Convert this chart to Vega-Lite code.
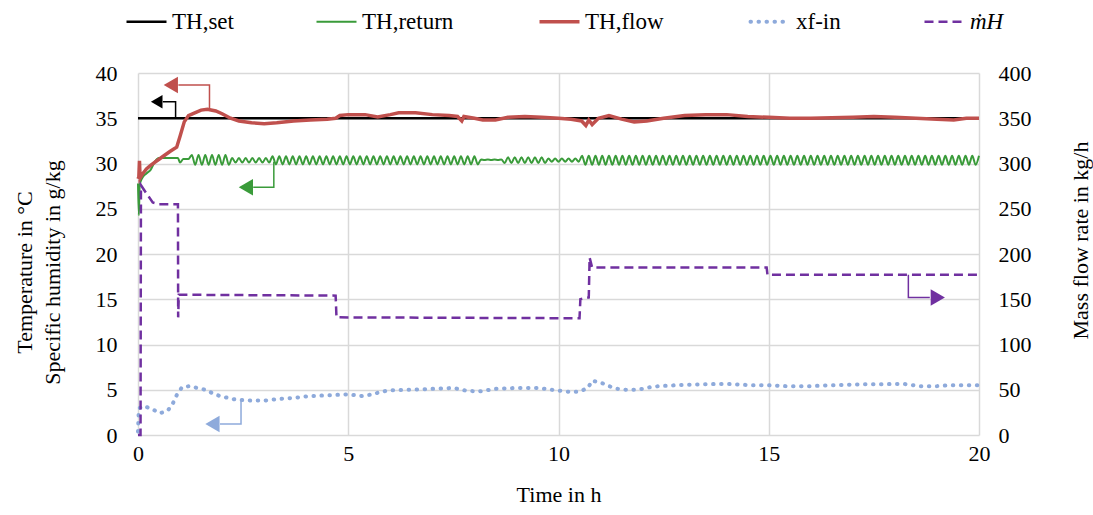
{
"$schema":"https://vega.github.io/schema/vega-lite/v6.json",
"width":841,"height":362,
"autosize":{"type":"none"},
"padding":{"left":138,"top":73,"right":114,"bottom":80},
"background":"white",
"config":{
 "font":"Liberation Serif",
 "view":{"stroke":null},
 "axis":{"labelFont":"Liberation Serif","titleFont":"Liberation Serif","labelFontSize":22,"titleFontSize":22,"titleFontWeight":"normal","labelColor":"#000","titleColor":"#000","gridColor":"#d9d9d9","gridWidth":1.5,"domain":false,"ticks":false,"labelFlush":false},
 "legend":{"orient":"none","legendX":-3,"legendY":-63,"direction":"horizontal","symbolType":"stroke","symbolSize":1600,"labelFont":"Liberation Serif","labelFontSize":23,"labelColor":"#000","columnPadding":78,"labelOffset":14,"labelLimit":0,"padding":0}
},
"datasets":{
 "set":[{"t":0,"v":35},{"t":20,"v":35}],
 "flow":[{"t":0,"v":28.3},{"t":0.02,"v":28.5},{"t":0.035,"v":30.3},{"t":0.05,"v":28.4},{"t":0.1,"v":28.8},{"t":0.2,"v":29.4},{"t":0.3,"v":29.8},{"t":0.45,"v":30.3},{"t":0.6,"v":30.8},{"t":0.75,"v":31.3},{"t":0.85,"v":31.6},{"t":0.92,"v":31.8},{"t":1.0,"v":33.0},{"t":1.1,"v":34.6},{"t":1.2,"v":35.3},{"t":1.35,"v":35.6},{"t":1.5,"v":35.9},{"t":1.65,"v":36.0},{"t":1.85,"v":35.8},{"t":2.0,"v":35.5},{"t":2.2,"v":35.0},{"t":2.4,"v":34.7},{"t":2.7,"v":34.5},{"t":3.0,"v":34.4},{"t":3.3,"v":34.5},{"t":3.7,"v":34.7},{"t":4.1,"v":34.8},{"t":4.5,"v":34.9},{"t":4.7,"v":35.0},{"t":4.8,"v":35.3},{"t":5.0,"v":35.4},{"t":5.4,"v":35.4},{"t":5.7,"v":35.15},{"t":6.0,"v":35.4},{"t":6.2,"v":35.6},{"t":6.6,"v":35.6},{"t":7.0,"v":35.4},{"t":7.4,"v":35.3},{"t":7.6,"v":35.2},{"t":7.7,"v":34.7},{"t":7.75,"v":35.2},{"t":8.0,"v":35.0},{"t":8.2,"v":34.8},{"t":8.5,"v":34.8},{"t":8.8,"v":35.1},{"t":9.2,"v":35.2},{"t":9.6,"v":35.1},{"t":10.0,"v":35.0},{"t":10.3,"v":34.9},{"t":10.55,"v":34.7},{"t":10.65,"v":34.2},{"t":10.72,"v":34.8},{"t":10.8,"v":34.3},{"t":10.95,"v":35.0},{"t":11.2,"v":35.3},{"t":11.5,"v":34.9},{"t":11.8,"v":34.6},{"t":12.1,"v":34.7},{"t":12.5,"v":35.0},{"t":13.0,"v":35.3},{"t":13.5,"v":35.4},{"t":14.0,"v":35.4},{"t":14.5,"v":35.2},{"t":15.0,"v":35.1},{"t":15.5,"v":35.0},{"t":16.0,"v":35.0},{"t":17.0,"v":35.1},{"t":17.5,"v":35.2},{"t":18.0,"v":35.1},{"t":18.5,"v":35.0},{"t":19.0,"v":34.9},{"t":19.4,"v":34.8},{"t":19.7,"v":35.0},{"t":20,"v":35.0}],
 "ret":[{"t":0,"v":27.8},{"t":0.02,"v":24.3},{"t":0.04,"v":27.6},{"t":0.1,"v":28.4},{"t":0.2,"v":28.9},{"t":0.3,"v":29.3},{"t":0.4,"v":30.2},{"t":0.5,"v":30.6},{"t":0.7,"v":30.6},{"t":0.95,"v":30.6},{"t":1.0,"v":30.1},{"t":1.08,"v":30.5},{"t":1.2,"v":30.5},
 {"t":1.28,"v":30.95},{"t":1.36,"v":29.85},{"t":1.44,"v":30.95},{"t":1.52,"v":29.85},{"t":1.6,"v":30.95},{"t":1.68,"v":29.85},{"t":1.76,"v":30.95},{"t":1.84,"v":29.85},{"t":1.92,"v":30.95},{"t":2.0,"v":29.85},{"t":2.08,"v":30.95},{"t":2.16,"v":29.85},
 {"t":2.24,"v":30.6},{"t":2.32,"v":30.1},{"t":2.4,"v":30.6},{"t":2.48,"v":30.1},{"t":2.56,"v":30.6},{"t":2.64,"v":30.1},{"t":2.72,"v":30.6},{"t":2.8,"v":30.1},{"t":2.88,"v":30.6},{"t":2.96,"v":30.1},{"t":3.04,"v":30.6},{"t":3.12,"v":30.1},
 {"t":3.2,"v":30.8},{"t":3.28,"v":29.9},{"t":3.36,"v":30.8},{"t":3.44,"v":29.9},{"t":3.52,"v":30.8},{"t":3.6,"v":29.9},{"t":3.68,"v":30.8},{"t":3.76,"v":29.9},{"t":3.84,"v":30.8},{"t":3.92,"v":29.9},{"t":4.0,"v":30.8},{"t":4.08,"v":29.9},{"t":4.16,"v":30.8},{"t":4.24,"v":29.9},{"t":4.32,"v":30.8},{"t":4.4,"v":29.9},{"t":4.48,"v":30.8},{"t":4.56,"v":29.9},{"t":4.64,"v":30.8},{"t":4.72,"v":29.9},{"t":4.8,"v":30.8},{"t":4.88,"v":29.9},{"t":4.96,"v":30.8},{"t":5.04,"v":29.9},{"t":5.12,"v":30.8},{"t":5.2,"v":29.9},{"t":5.28,"v":30.8},{"t":5.36,"v":29.9},{"t":5.44,"v":30.8},{"t":5.52,"v":29.9},{"t":5.6,"v":30.8},{"t":5.68,"v":29.9},{"t":5.76,"v":30.8},{"t":5.84,"v":29.9},{"t":5.92,"v":30.8},{"t":6.0,"v":29.9},{"t":6.08,"v":30.8},{"t":6.16,"v":29.9},{"t":6.24,"v":30.8},{"t":6.32,"v":29.9},{"t":6.4,"v":30.8},{"t":6.48,"v":29.9},{"t":6.56,"v":30.8},{"t":6.64,"v":29.9},{"t":6.72,"v":30.8},{"t":6.8,"v":29.9},{"t":6.88,"v":30.8},{"t":6.96,"v":29.9},{"t":7.04,"v":30.8},{"t":7.12,"v":29.9},{"t":7.2,"v":30.8},{"t":7.28,"v":29.9},{"t":7.36,"v":30.8},{"t":7.44,"v":29.9},{"t":7.52,"v":30.8},{"t":7.6,"v":29.9},{"t":7.68,"v":30.8},{"t":7.76,"v":29.9},{"t":7.84,"v":30.8},{"t":7.92,"v":29.9},{"t":8.0,"v":30.8},{"t":8.08,"v":29.9},
 {"t":8.16,"v":30.45},{"t":8.24,"v":30.4},{"t":8.32,"v":30.45},{"t":8.4,"v":30.4},{"t":8.48,"v":30.45},{"t":8.56,"v":30.4},{"t":8.64,"v":30.45},
 {"t":8.72,"v":30.05},{"t":8.8,"v":30.7},{"t":8.88,"v":30.05},{"t":8.96,"v":30.7},{"t":9.04,"v":30.05},{"t":9.12,"v":30.7},{"t":9.2,"v":30.05},{"t":9.28,"v":30.7},{"t":9.36,"v":30.05},{"t":9.44,"v":30.7},{"t":9.52,"v":30.05},{"t":9.6,"v":30.7},{"t":9.68,"v":30.05},
 {"t":9.76,"v":30.55},{"t":9.84,"v":30.2},{"t":9.92,"v":30.55},{"t":10.0,"v":30.2},{"t":10.08,"v":30.55},{"t":10.16,"v":30.2},{"t":10.24,"v":30.55},{"t":10.32,"v":30.2},{"t":10.4,"v":30.55},{"t":10.48,"v":30.2},
 {"t":10.56,"v":30.85},{"t":10.64,"v":29.85},{"t":10.72,"v":30.85},{"t":10.8,"v":29.85},{"t":10.88,"v":30.85},{"t":10.96,"v":29.85},{"t":11.04,"v":30.85},{"t":11.12,"v":29.85},{"t":11.2,"v":30.85},{"t":11.28,"v":29.85},{"t":11.36,"v":30.85},{"t":11.44,"v":29.85},{"t":11.52,"v":30.85},{"t":11.6,"v":29.85},{"t":11.68,"v":30.85},{"t":11.76,"v":29.85},{"t":11.84,"v":30.85},{"t":11.92,"v":29.85},{"t":12.0,"v":30.85},{"t":12.08,"v":29.85},{"t":12.16,"v":30.85},{"t":12.24,"v":29.85},{"t":12.32,"v":30.85},{"t":12.4,"v":29.85},{"t":12.48,"v":30.85},{"t":12.56,"v":29.85},{"t":12.64,"v":30.85},{"t":12.72,"v":29.85},{"t":12.8,"v":30.85},{"t":12.88,"v":29.85},{"t":12.96,"v":30.85},{"t":13.04,"v":29.85},{"t":13.12,"v":30.85},{"t":13.2,"v":29.85},{"t":13.28,"v":30.85},{"t":13.36,"v":29.85},{"t":13.44,"v":30.85},{"t":13.52,"v":29.85},{"t":13.6,"v":30.85},{"t":13.68,"v":29.85},{"t":13.76,"v":30.85},{"t":13.84,"v":29.85},{"t":13.92,"v":30.85},{"t":14.0,"v":29.85},{"t":14.08,"v":30.85},{"t":14.16,"v":29.85},{"t":14.24,"v":30.85},{"t":14.32,"v":29.85},{"t":14.4,"v":30.85},{"t":14.48,"v":29.85},{"t":14.56,"v":30.85},{"t":14.64,"v":29.85},{"t":14.72,"v":30.85},{"t":14.8,"v":29.85},{"t":14.88,"v":30.85},{"t":14.96,"v":29.85},{"t":15.04,"v":30.85},{"t":15.12,"v":29.85},{"t":15.2,"v":30.85},{"t":15.28,"v":29.85},{"t":15.36,"v":30.85},{"t":15.44,"v":29.85},{"t":15.52,"v":30.85},{"t":15.6,"v":29.85},{"t":15.68,"v":30.85},{"t":15.76,"v":29.85},{"t":15.84,"v":30.85},{"t":15.92,"v":29.85},{"t":16.0,"v":30.85},{"t":16.08,"v":29.85},{"t":16.16,"v":30.85},{"t":16.24,"v":29.85},{"t":16.32,"v":30.85},{"t":16.4,"v":29.85},{"t":16.48,"v":30.85},{"t":16.56,"v":29.85},{"t":16.64,"v":30.85},{"t":16.72,"v":29.85},{"t":16.8,"v":30.85},{"t":16.88,"v":29.85},{"t":16.96,"v":30.85},{"t":17.04,"v":29.85},{"t":17.12,"v":30.85},{"t":17.2,"v":29.85},{"t":17.28,"v":30.85},{"t":17.36,"v":29.85},{"t":17.44,"v":30.85},{"t":17.52,"v":29.85},{"t":17.6,"v":30.85},{"t":17.68,"v":29.85},{"t":17.76,"v":30.85},{"t":17.84,"v":29.85},{"t":17.92,"v":30.85},{"t":18.0,"v":29.85},{"t":18.08,"v":30.85},{"t":18.16,"v":29.85},{"t":18.24,"v":30.85},{"t":18.32,"v":29.85},{"t":18.4,"v":30.85},{"t":18.48,"v":29.85},{"t":18.56,"v":30.85},{"t":18.64,"v":29.85},{"t":18.72,"v":30.85},{"t":18.8,"v":29.85},{"t":18.88,"v":30.85},{"t":18.96,"v":29.85},{"t":19.04,"v":30.85},{"t":19.12,"v":29.85},{"t":19.2,"v":30.85},{"t":19.28,"v":29.85},{"t":19.36,"v":30.85},{"t":19.44,"v":29.85},{"t":19.52,"v":30.85},{"t":19.6,"v":29.85},{"t":19.68,"v":30.85},{"t":19.76,"v":29.85},{"t":19.84,"v":30.85},{"t":19.92,"v":29.85},{"t":20.0,"v":30.85}],
 "xf":[{"t":0,"v":0.4},{"t":0.01,"v":1.8},{"t":0.02,"v":2.9},{"t":0.1,"v":3.2},{"t":0.2,"v":3.1},{"t":0.36,"v":2.8},{"t":0.52,"v":2.4},{"t":0.71,"v":2.7},{"t":0.83,"v":3.5},{"t":0.93,"v":4.5},{"t":1.05,"v":5.3},{"t":1.24,"v":5.4},{"t":1.4,"v":5.2},{"t":1.6,"v":5.0},{"t":1.78,"v":4.6},{"t":1.95,"v":4.3},{"t":2.14,"v":4.1},{"t":2.33,"v":3.9},{"t":2.7,"v":3.8},{"t":3.0,"v":3.8},{"t":3.4,"v":4.0},{"t":3.7,"v":4.1},{"t":4.1,"v":4.3},{"t":4.6,"v":4.4},{"t":5.0,"v":4.5},{"t":5.3,"v":4.3},{"t":5.6,"v":4.5},{"t":5.75,"v":4.75},{"t":6.0,"v":4.95},{"t":6.5,"v":5.0},{"t":7.0,"v":5.1},{"t":7.5,"v":5.2},{"t":7.8,"v":4.9},{"t":8.1,"v":4.8},{"t":8.5,"v":5.1},{"t":9.0,"v":5.2},{"t":9.5,"v":5.2},{"t":10.0,"v":4.9},{"t":10.3,"v":4.75},{"t":10.5,"v":4.8},{"t":10.7,"v":5.2},{"t":10.8,"v":6.0},{"t":11.0,"v":5.8},{"t":11.2,"v":5.4},{"t":11.4,"v":5.1},{"t":11.6,"v":5.0},{"t":11.8,"v":5.0},{"t":12.0,"v":5.1},{"t":12.2,"v":5.3},{"t":12.4,"v":5.4},{"t":12.8,"v":5.5},{"t":13.4,"v":5.6},{"t":14.0,"v":5.65},{"t":14.6,"v":5.5},{"t":15.0,"v":5.5},{"t":15.4,"v":5.4},{"t":16.0,"v":5.4},{"t":16.5,"v":5.5},{"t":17.2,"v":5.6},{"t":17.6,"v":5.6},{"t":18.2,"v":5.65},{"t":18.6,"v":5.4},{"t":19.0,"v":5.4},{"t":19.3,"v":5.5},{"t":20,"v":5.5}],
 "mh":[{"t":0,"v":0},{"t":0.06,"v":0},{"t":0.07,"v":276},{"t":0.2,"v":267},{"t":0.35,"v":257},{"t":0.5,"v":255},{"t":0.95,"v":255},{"t":0.955,"v":130},{"t":0.97,"v":155},{"t":4.7,"v":154},{"t":4.72,"v":130},{"t":10.5,"v":129},{"t":10.52,"v":150},{"t":10.72,"v":152},{"t":10.74,"v":196},{"t":10.8,"v":185},{"t":14.95,"v":185},{"t":14.97,"v":177},{"t":20,"v":177}]
},
"encoding":{"x":{"field":"t","type":"quantitative","scale":{"domain":[0,20],"nice":false},"axis":{"values":[0,5,10,15,20],"title":"Time in h","labelFont":"Liberation Serif","titleFont":"Liberation Serif","labelPadding":8,"titlePadding":20,"grid":true}}},
"layer":[
 {"encoding":{"y":{"field":"v","type":"quantitative","scale":{"domain":[0,40],"nice":false},"axis":{"values":[0,5,10,15,20,25,30,35,40],"title":["Temperature in °C","Specific humidity in g/kg"],"labelFont":"Liberation Serif","titleFont":"Liberation Serif","labelPadding":21,"titleAngle":270,"titleX":-114,"titleY":199,"titleBaseline":"middle","titleAlign":"center","titleLineHeight":28,"grid":true}}},
  "layer":[
   {"data":{"name":"set"},"mark":{"type":"line","strokeWidth":2.5},"encoding":{
     "color":{"datum":"TH,set","type":"nominal","title":null,"scale":{"domain":["TH,set","TH,return","TH,flow","xf-in","ṁH"],"range":["#000000","#3a9b3a","#c0504d","#8eaadb","#7030a0"]},"legend":{"encode":{
       "labels":{"update":{"fontStyle":{"signal":"datum.value === 'ṁH' ? 'italic' : 'normal'"}}},
       "symbols":{"update":{"strokeCap":{"signal":"datum.value === 'xf-in' ? 'round' : 'butt'"},"strokeDash":{"signal":"datum.value === 'xf-in' ? [0.5,7.5] : (datum.value === 'ṁH' ? [9,5] : [1,0])"},"strokeWidth":{"signal":"datum.value === 'TH,flow' ? 3.5 : (datum.value === 'xf-in' ? 4 : (datum.value === 'TH,return' ? 2 : 2.5))"}}}}}}}},
   {"data":{"name":"ret"},"mark":{"type":"line","strokeWidth":2,"interpolate":"monotone"},"encoding":{"color":{"datum":"TH,return","type":"nominal","title":null}}},
   {"data":{"name":"flow"},"mark":{"type":"line","strokeWidth":3.5},"encoding":{"color":{"datum":"TH,flow","type":"nominal","title":null}}},
   {"data":{"name":"xf"},"mark":{"type":"line","strokeWidth":4,"strokeCap":"round","strokeDash":[0.5,7.5]},"encoding":{"color":{"datum":"xf-in","type":"nominal","title":null}}},
   {"data":{"values":[{"t":0.894,"v":35.0},{"t":0.894,"v":36.83},{"t":0.59,"v":36.83}]},"mark":{"type":"line","color":"#000000","strokeWidth":1.5},"encoding":{"order":{"value":null}}},
   {"data":{"values":[{"t":0.445,"v":36.83}]},"mark":{"type":"point","shape":"triangle-left","filled":true,"color":"#000000","opacity":1,"size":180}},
   {"data":{"values":[{"t":1.70,"v":35.9},{"t":1.70,"v":38.67},{"t":0.96,"v":38.67}]},"mark":{"type":"line","color":"#c0504d","strokeWidth":1.5},"encoding":{"order":{"value":null}}},
   {"data":{"values":[{"t":0.78,"v":38.67}]},"mark":{"type":"point","shape":"triangle-left","filled":true,"color":"#c0504d","opacity":1,"size":270}},
   {"data":{"values":[{"t":3.23,"v":30.2},{"t":3.23,"v":27.37},{"t":2.74,"v":27.37}]},"mark":{"type":"line","color":"#3a9b3a","strokeWidth":1.5},"encoding":{"order":{"value":null}}},
   {"data":{"values":[{"t":2.565,"v":27.37}]},"mark":{"type":"point","shape":"triangle-left","filled":true,"color":"#3a9b3a","opacity":1,"size":270}},
   {"data":{"values":[{"t":2.45,"v":3.87},{"t":2.45,"v":1.22},{"t":1.95,"v":1.22}]},"mark":{"type":"line","color":"#8eaadb","strokeWidth":1.5},"encoding":{"order":{"value":null}}},
   {"data":{"values":[{"t":1.77,"v":1.22}]},"mark":{"type":"point","shape":"triangle-left","filled":true,"color":"#8eaadb","opacity":1,"size":270}}
  ]},
 {"encoding":{"y":{"field":"v","type":"quantitative","scale":{"domain":[0,400],"nice":false},"axis":{"orient":"right","values":[0,50,100,150,200,250,300,350,400],"title":"Mass flow rate in kg/h","labelFont":"Liberation Serif","titleFont":"Liberation Serif","labelPadding":19,"grid":false,"titleAngle":270,"titleX":101,"titleY":167,"titleBaseline":"middle","titleAlign":"center"}}},
  "layer":[
   {"data":{"name":"mh"},"mark":{"type":"line","strokeWidth":2.5,"strokeDash":[9,5]},"encoding":{"color":{"datum":"ṁH","type":"nominal","title":null}}},
   {"data":{"values":[{"t":18.32,"v":177},{"t":18.32,"v":152},{"t":18.83,"v":152}]},"mark":{"type":"line","color":"#7030a0","strokeWidth":1.5},"encoding":{"order":{"value":null}}},
   {"data":{"values":[{"t":19.02,"v":152}]},"mark":{"type":"point","shape":"triangle-right","filled":true,"color":"#7030a0","opacity":1,"size":270}}
  ]}
],
"resolve":{"scale":{"y":"independent"}}
}
